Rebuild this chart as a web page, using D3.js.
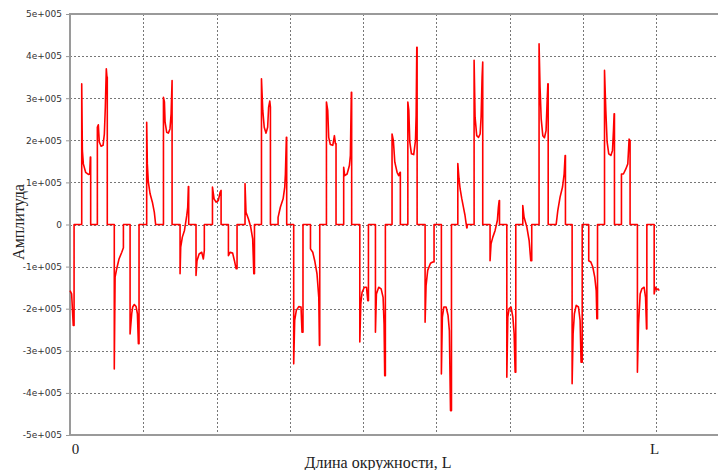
<!DOCTYPE html>
<html>
<head>
<meta charset="utf-8">
<script src="https://cdn.jsdelivr.net/npm/d3@7/dist/d3.min.js"></script>
<style>
html, body { margin: 0; padding: 0; background: #fff; }
#chart { width: 718px; height: 470px; }
</style>
</head>
<body>
<div id="chart"></div>
<script>
/* Amplitude along the circumference — step-like pulse trace, values in units of 1e+005. */

var xTicks = [0, 360];
var xTickLabels = ["0", "L"];
var yTicks = [-5, -4, -3, -2, -1, 0, 1, 2, 3, 4, 5];
var yTickLabels = ["-5e+005", "-4e+005", "-3e+005", "-2e+005", "-1e+005", "0",
  "1e+005", "2e+005", "3e+005", "4e+005", "5e+005"];

/* position along circumference (L = 360) */
var pos = [
  0.0, 1.0, 2.0, 2.5, 2.5,
  7.2, 7.2, 7.6, 8.2, 9.6, 11.3, 12.1, 12.5, 12.7, 12.7,
  16.8, 16.8, 17.4, 18.0, 19.1, 20.3, 21.1, 21.7, 22.3, 22.7, 22.9, 22.9,
  27.2, 27.2, 27.7, 28.7, 30.1, 31.8, 32.8, 32.8,
  36.9, 36.9, 37.9, 38.5, 39.5, 40.6, 41.4, 42.0, 42.4, 42.4,
  47.1, 47.1, 47.5, 48.1, 49.2, 50.6, 51.8, 52.6,
  57.4, 57.4, 58.0, 58.4, 59.4, 60.4, 61.4, 62.1, 62.7, 62.7,
  67.6, 67.6, 68.0, 69.0, 70.3, 71.7, 72.3, 72.7, 72.9, 72.9,
  77.4, 77.4, 78.0, 79.3, 80.9, 81.9, 82.5, 82.5,
  87.5, 87.5, 88.5, 89.7, 91.1, 92.2, 92.8, 92.8,
  97.3, 97.3, 98.3, 99.9, 101.0, 102.0, 102.6, 102.6,
  107.5, 107.5, 108.1, 109.6, 111.0, 112.2, 112.9, 113.3, 113.3,
  117.6, 117.6, 118.4, 119.3, 120.4, 121.4, 122.0, 122.7, 123.1, 123.1,
  127.8, 127.8, 129.2, 130.9, 131.9, 132.3, 132.9, 133.1, 133.1,
  137.4, 137.4, 138.0, 139.0, 140.5, 141.9, 142.5, 143.1, 143.1,
  147.7, 147.7, 149.1, 150.3, 151.7, 152.8, 153.2, 153.4, 153.4,
  157.5, 157.5, 158.3, 158.9, 159.9, 161.4, 162.4, 163.0, 163.4, 163.4,
  168.1, 168.1, 168.7, 170.2, 171.6, 172.2, 172.8, 173.0, 173.0,
  178.0, 178.0, 178.6, 179.4, 180.8, 182.1, 182.9, 183.3, 183.3,
  187.6, 187.6, 188.2, 189.6, 191.1, 192.3, 192.9, 193.3, 193.7, 193.7,
  197.8, 197.8, 198.6, 199.5, 200.9, 201.9, 202.7, 202.9, 202.9,
  207.5, 207.5, 208.1, 208.7, 209.7, 211.1, 212.2, 212.6, 213.0, 213.2, 213.2,
  218.1, 218.1, 218.7, 219.7, 221.4, 222.8, 223.6, 223.6,
  228.1, 228.1, 228.7, 229.6, 231.0, 232.2, 233.0, 233.7, 234.3, 234.3,
  238.2, 238.2, 238.9, 239.6, 240.6, 241.6, 242.6, 243.3, 243.7, 243.9, 243.9,
  248.2, 248.2, 248.8, 249.8, 250.9, 251.9, 252.5, 253.1, 253.5, 253.5,
  258.0, 258.0, 258.6, 259.7, 261.1, 262.5, 263.1, 263.6, 263.8, 263.8,
  268.3, 268.3, 268.9, 269.7, 270.9, 272.0, 272.8, 273.4, 273.8, 273.8,
  278.1, 278.1, 278.9, 280.6, 282.0, 283.0, 283.6, 283.6,
  288.1, 288.1, 288.7, 289.4, 290.4, 291.4, 292.4, 293.0, 293.5, 293.7, 293.7,
  298.6, 299.6, 301.0, 302.5, 303.5, 304.1, 304.3, 304.3,
  308.4, 308.4, 309.0, 309.8, 310.9, 312.3, 313.3, 313.9, 314.6, 314.6,
  318.6, 318.6, 319.9, 321.1, 322.3, 323.2, 323.6, 324.0, 324.0,
  328.3, 328.3, 329.1, 329.9, 330.9, 332.2, 333.2, 333.8, 334.2, 334.4, 334.4,
  338.7, 338.7, 339.9, 341.4, 342.6, 343.4, 343.8, 344.0, 344.0,
  348.5, 348.5, 349.2, 350.2, 351.2, 352.6, 353.5, 354.1, 354.3, 354.3,
  358.8, 358.8, 359.6, 360.4, 361.2, 361.9
];

/* amplitude, x 1e+005 */
var amp = [
  -1.57, -1.65, -2.40, -2.40, 0,
  0, 3.34, 1.76, 1.44, 1.24, 1.19, 1.20, 1.60, 1.60, 0,
  0, 2.31, 2.37, 1.96, 1.86, 1.88, 2.15, 2.79, 3.70, 3.50, 3.50, 0,
  0, -3.43, -1.25, -1.05, -0.82, -0.66, -0.55, 0,
  0, -2.60, -2.12, -1.96, -1.90, -1.95, -2.12, -2.83, -2.83, 0,
  0, 2.43, 1.44, 1.01, 0.73, 0.53, 0.29, 0,
  0, 3.02, 2.91, 2.43, 2.19, 2.17, 2.27, 2.63, 3.42, 0,
  0, -1.17, -0.54, -0.30, -0.14, 0.21, 0.41, 0.90, 0.90, 0,
  0, -1.21, -0.86, -0.70, -0.66, -0.82, -0.62, 0,
  0, 0.89, 0.61, 0.53, 0.57, 0.77, 0.81, 0,
  0, -0.74, -0.66, -0.68, -0.86, -1.05, -1.05, 0,
  0, 0.97, 0.29, 0.13, -0.06, -0.34, -1.17, -1.17, 0,
  0, 3.46, 2.71, 2.31, 2.17, 2.31, 2.79, 2.93, 2.79, 0,
  0, 0.17, 0.41, 0.61, 0.89, 1.20, 2.07, 2.07, 0,
  0, -3.31, -2.28, -2.04, -1.95, -1.96, -2.56, -2.56, 0,
  0, -0.58, -0.66, -0.86, -1.17, -1.73, -2.87, -2.87, 0,
  0, 2.91, 2.71, 2.07, 1.90, 1.88, 2.11, 1.92, 1.92, 0,
  0, 1.36, 1.16, 1.20, 1.40, 1.64, 3.14, 3.14, 0,
  0, -2.79, -1.88, -1.61, -1.49, -1.49, -1.81, -1.81, 0,
  0, -2.56, -1.65, -1.49, -1.53, -1.73, -2.36, -3.59, -3.59, 0,
  0, 2.15, 2.00, 1.48, 1.24, 1.16, 1.24, 1.24, 0,
  0, 2.91, 2.71, 1.96, 1.68, 1.66, 2.00, 2.59, 4.21, 4.21, 0,
  0, -2.32, -1.45, -1.09, -0.92, -0.89, -0.89, 0,
  0, -3.55, -2.20, -1.96, -1.96, -2.16, -2.52, -4.42, -4.42, 0,
  0, 1.45, 1.10, 0.85, 0.62, 0.42, 0.22, 0.02, -0.08, -0.08, 0,
  0, 3.90, 2.55, 2.11, 2.07, 2.15, 2.55, 3.50, 3.86, 0,
  0, -0.86, -0.46, -0.30, -0.14, 0.10, 0.40, 0.57, 0.57, 0,
  0, -3.63, -2.20, -2.00, -1.96, -2.20, -2.60, -3.51, -3.51, 0,
  0, 0.45, 0.17, -0.06, -0.38, -0.86, -0.86, 0,
  0, 4.29, 3.26, 2.51, 2.11, 2.06, 2.23, 2.87, 3.34, 3.34, 0,
  0, 0.33, 0.65, 0.89, 1.20, 1.64, 1.64, 0,
  0, -3.78, -2.60, -2.12, -1.92, -1.96, -2.28, -3.27, -3.27, 0,
  0, -0.86, -0.89, -1.01, -1.25, -1.57, -2.24, -2.24, 0,
  0, 3.66, 2.71, 1.96, 1.68, 1.64, 1.76, 2.23, 2.63, 2.63, 0,
  0, 1.20, 1.20, 1.32, 1.44, 2.03, 2.00, 2.00, 0,
  0, -3.51, -2.36, -1.65, -1.53, -1.49, -1.73, -2.48, -2.48, 0,
  0, -1.65, -1.49, -1.55, -1.53, -1.57
];

function render(el) {
  var d3 = window.d3;
  el.innerHTML = "";

  var width = 718, height = 470;
  var margin = { top: 14, right: 0, bottom: 35, left: 70 };
  var innerW = width - margin.left - margin.right;
  var innerH = height - margin.top - margin.bottom;

  var svg = d3.select(el).append("svg")
    .attr("width", width).attr("height", height)
    .attr("viewBox", "0 0 " + width + " " + height)
    .style("display", "block");

  svg.append("rect").attr("width", width).attr("height", height).attr("fill", "#fff");

  var g = svg.append("g").attr("transform", "translate(" + margin.left + "," + margin.top + ")");

  var x = d3.scaleLinear().domain([0, 398]).range([0, innerW]);
  var y = d3.scaleLinear().domain([-5, 5]).range([innerH, 0]);

  /* dotted grid */
  var gridY = yTicks.filter(function (v) { return v > -5 && v < 5; });
  var gridX = d3.range(45, 400, 45);

  g.append("g").selectAll("line").data(gridY).enter().append("line")
    .attr("x1", 0).attr("x2", innerW)
    .attr("y1", function (v) { return Math.round(y(v)) + 0.5; })
    .attr("y2", function (v) { return Math.round(y(v)) + 0.5; })
    .attr("stroke", "#777").attr("stroke-width", 1).attr("stroke-dasharray", "2 2");

  g.append("g").selectAll("line").data(gridX).enter().append("line")
    .attr("y1", 0).attr("y2", innerH)
    .attr("x1", function (v) { return Math.round(x(v)) + 0.5; })
    .attr("x2", function (v) { return Math.round(x(v)) + 0.5; })
    .attr("stroke", "#777").attr("stroke-width", 1).attr("stroke-dasharray", "2 2");

  /* y axis */
  var yAxis = g.append("g")
    .call(d3.axisLeft(y).tickValues(yTicks).tickSize(4).tickPadding(4)
      .tickFormat(function (v, i) { return yTickLabels[i]; }));
  yAxis.select(".domain").remove();
  yAxis.selectAll("line").attr("stroke", "#999");
  yAxis.selectAll("text")
    .attr("fill", "#333")
    .style("font-family", "'DejaVu Sans', Verdana, sans-serif")
    .style("font-size", "9px");

  /* x axis labels */
  var xAxis = g.append("g").attr("transform", "translate(0," + innerH + ")")
    .call(d3.axisBottom(x).tickValues(xTicks).tickSize(0).tickPadding(8)
      .tickFormat(function (v, i) { return xTickLabels[i]; }));
  xAxis.select(".domain").remove();
  xAxis.selectAll("text")
    .attr("fill", "#222")
    .attr("dx", function (v, i) { return i === 0 ? 5 : -2; })
    .style("font-family", "'Liberation Serif', 'Times New Roman', serif")
    .style("font-size", "15px");

  /* frame: left, top, bottom */
  g.append("line").attr("x1", 0).attr("x2", 0).attr("y1", -1).attr("y2", innerH + 1)
    .attr("stroke", "#9a9a9a").attr("stroke-width", 2);
  g.append("line").attr("x1", 0).attr("x2", innerW).attr("y1", 0).attr("y2", 0)
    .attr("stroke", "#9a9a9a").attr("stroke-width", 2);
  g.append("line").attr("x1", 0).attr("x2", innerW).attr("y1", innerH).attr("y2", innerH)
    .attr("stroke", "#9a9a9a").attr("stroke-width", 2);

  /* signal */
  var pts = pos.map(function (p, i) { return [p, amp[i]]; });
  var line = d3.line()
    .x(function (d) { return x(d[0]); })
    .y(function (d) { return y(d[1]); });

  g.append("path").datum(pts)
    .attr("fill", "none").attr("stroke", "#ff0000").attr("stroke-width", 1.6)
    .attr("stroke-linejoin", "round")
    .attr("d", line);

  /* axis titles */
  svg.append("text")
    .attr("x", 378).attr("y", 468)
    .attr("text-anchor", "middle")
    .attr("fill", "#222")
    .style("font-family", "'Liberation Serif', 'Times New Roman', serif")
    .style("font-size", "16px")
    .text("Длина окружности, L");

  svg.append("text")
    .attr("transform", "translate(24,222) rotate(-90)")
    .attr("text-anchor", "middle")
    .attr("fill", "#222")
    .style("font-family", "'Liberation Serif', 'Times New Roman', serif")
    .style("font-size", "16px")
    .text("Амплитуда");
}

render(document.getElementById("chart"));
</script>
</body>
</html>
